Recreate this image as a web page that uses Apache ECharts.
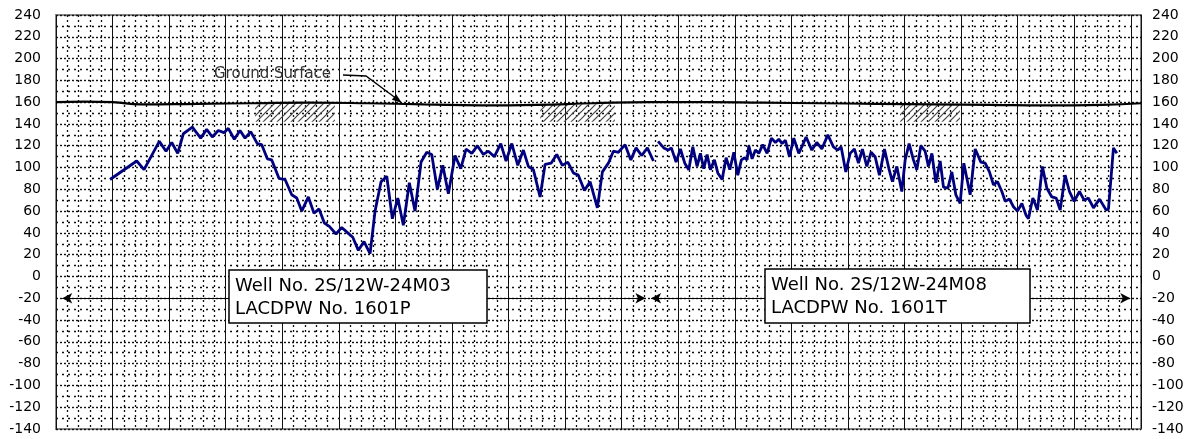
<!DOCTYPE html>
<html>
<head>
<meta charset="utf-8">
<script src="https://cdn.jsdelivr.net/npm/echarts@6/dist/echarts.min.js"></script>
<style>
html,body{margin:0;padding:0;background:#fff;}
#chart{width:1201px;height:439px;}
</style>
</head>
<body>
<div id="chart"></div>
<script>
// ---- Data (x in years from left edge of chart, y = water level elevation, ft) ----
const m03Years = [0.955,1.427,1.556,1.826,1.945,2.046,2.152,2.251,2.410,2.558,2.664,2.763,2.869,2.970,3.046,3.152,3.253,3.342,3.442,3.559,3.637,3.736,3.814,3.943,4.049,4.167,4.256,4.344,4.461,4.561,4.650,4.744,4.832,4.950,5.051,5.157,5.246,5.345,5.445,5.552,5.640,5.746,5.847,5.946,6.041,6.140,6.246,6.347,6.453,6.554,6.642,6.741,6.837,6.936,7.054,7.155,7.249,7.350,7.449,7.555,7.643,7.749,7.862,7.956,8.057,8.163,8.262,8.350,8.439,8.557,8.646,8.752,8.852,8.951,9.047,9.146,9.234,9.341,9.441,9.570,9.659,9.765,9.853,9.942,10.060,10.161,10.254,10.355,10.454,10.561];
const m03Levels = [89,106,98,124,115,123,113,131,137,127,135,128,134,132,136,126,134,127,133,122,121,108,107,90,89,75,72,60,73,58,62,49,46,39,45,40,36,24,32,21,60,87,92,53,72,47,86,60,105,114,112,80,102,76,111,99,117,113,120,112,115,110,122,106,122,102,116,101,98,73,103,104,112,102,105,95,93,79,87,63,96,104,115,114,121,107,118,111,118,106];

const m08Years = [10.643,10.744,10.820,10.878,10.962,11.038,11.115,11.186,11.257,11.333,11.391,11.451,11.510,11.568,11.639,11.699,11.775,11.846,11.911,11.982,12.052,12.116,12.176,12.217,12.247,12.305,12.364,12.424,12.494,12.570,12.647,12.717,12.777,12.836,12.894,12.965,13.042,13.130,13.202,13.260,13.361,13.449,13.538,13.644,13.743,13.821,13.879,13.962,14.038,14.114,14.185,14.255,14.333,14.409,14.480,14.556,14.645,14.728,14.786,14.864,14.952,15.011,15.081,15.157,15.217,15.288,15.364,15.423,15.483,15.553,15.630,15.688,15.766,15.836,15.907,15.983,16.048,16.160,16.249,16.349,16.425,16.501,16.572,16.643,16.720,16.779,16.855,16.925,16.996,17.074,17.150,17.190,17.268,17.349,17.438,17.516,17.604,17.680,17.751,17.839,17.915,17.998,18.092,18.175,18.251,18.340,18.446,18.564,18.605,18.693,18.753];
const m08Levels = [124,118,116,118,105,117,104,98,119,101,113,99,112,98,107,95,89,109,98,114,93,107,109,107,120,108,116,113,121,113,127,123,126,122,125,110,127,113,121,128,116,123,117,130,119,116,119,96,113,117,104,117,101,114,110,93,117,98,87,101,78,107,122,107,98,120,115,101,113,86,106,82,81,96,75,67,104,75,117,105,104,96,84,87,78,69,71,64,60,67,56,53,72,61,101,81,73,72,61,93,78,69,78,70,72,63,71,61,62,118,113];

const groundYears  = [0,0.5,1,1.5,2.5,3.5,4.5,5.5,6.5,7.5,8.5,9.5,10.5,11.5,12.5,13.5,14.5,15.5,16.5,17.5,18.5,19.18];
const groundLevels = [160,160.5,160,158,158.5,159,159.5,159,158,157,157.5,159,160,160,159.5,159,158.5,158,157.5,157,157.5,159];

// hatched ground-symbol zones: [startYear, endYear, top, bottom]
const hatchZones = [[3.52,4.93,159,142],[8.56,9.88,158,142],[14.92,15.98,158,142]];
// monitoring periods for each well (arrows at level -20)
const wellPeriods = [[0.11,10.42],[10.52,18.99]];
const periodLevel = -20;
const wellLabels = ['Well No. 2S/12W-24M03\nLACDPW No. 1601P','Well No. 2S/12W-24M08\nLACDPW No. 1601T'];
const groundLabel = 'Ground Surface';

const xMin = 0, xMax = 19.18;
const yMin = -140, yMax = 240, yStep = 20;

function zip(xs, ys){ return xs.map((x,i)=>[x, ys[i]]); }

function hatchPattern(){
  const c = document.createElement('canvas');
  c.width = 7; c.height = 7;
  const g = c.getContext('2d');
  g.strokeStyle = '#444'; g.lineWidth = 1.2;
  g.beginPath();
  g.moveTo(0,7); g.lineTo(7,0);
  g.moveTo(-1,1); g.lineTo(1,-1);
  g.moveTo(6,8); g.lineTo(8,6);
  g.stroke();
  return c;
}

const chart = echarts.init(document.getElementById('chart'), null, {renderer:'canvas'});
const labelFont = 'DejaVu Sans';
const navy = '#00007f';

const option = {
  animation:false,
  backgroundColor:'#fff',
  grid:{left:56,right:60,top:15,bottom:10,show:true,borderColor:'#8a8a8a',borderWidth:2,backgroundColor:'transparent'},
  xAxis:{
    type:'value',min:xMin,max:xMax,interval:1,
    axisLine:{show:false},
    axisLabel:{show:false},
    axisTick:{show:true,length:7,lineStyle:{color:'#000',width:1}},
    splitLine:{show:true,lineStyle:{color:'#111',width:1,type:'solid'}},
    minorTick:{show:false,splitNumber:5},
    minorSplitLine:{show:true,lineStyle:{color:'#111',width:1.3,type:[2,3]}}
  },
  yAxis:[
    {
      type:'value',min:yMin,max:yMax,interval:yStep,position:'left',
      axisLine:{show:false},axisTick:{show:false},
      axisLabel:{color:'#000',fontFamily:labelFont,fontSize:14,margin:15},
      splitLine:{show:true,lineStyle:{color:'#111',width:1.4,type:[2,2]}},
      minorTick:{show:false,splitNumber:2},
      minorSplitLine:{show:true,lineStyle:{color:'#111',width:1.4,type:[2,4]}}
    },
    {
      type:'value',min:yMin,max:yMax,interval:yStep,position:'right',
      axisLine:{show:false},axisTick:{show:false},
      axisLabel:{color:'#000',fontFamily:labelFont,fontSize:14,margin:11},
      splitLine:{show:false}
    }
  ],
  series:[
    {
      name:'Ground Surface',type:'line',data:zip(groundYears,groundLevels),
      showSymbol:false,smooth:true,
      lineStyle:{color:'#000',width:2.2},
      markArea:{
        silent:true,
        itemStyle:{color:{image:hatchPattern(),repeat:'repeat'}},
        label:{show:false},
        data:hatchZones.map(z=>[{coord:[z[0],z[2]]},{coord:[z[1],z[3]]}])
      },
      markLine:{
        silent:true,symbol:['arrow','arrow'],symbolSize:[8,10],
        label:{show:false},
        lineStyle:{color:'#000',width:1,type:'solid'},
        data:wellPeriods.map(p=>[{coord:[p[0],periodLevel]},{coord:[p[1],periodLevel]}])
      }
    },
    {
      name:'24M03',type:'line',data:zip(m03Years,m03Levels),
      showSymbol:false,lineStyle:{color:navy,width:2.8},z:5
    },
    {
      name:'24M08',type:'line',data:zip(m08Years,m08Levels),
      showSymbol:false,lineStyle:{color:navy,width:2.8},z:5
    }
  ],
  graphic:[
    {type:'rect',shape:{x:229,y:270,width:258,height:53},style:{fill:'#fff',stroke:'#000',lineWidth:1.5},z:100},
    {type:'text',x:235,y:275,style:{text:wellLabels[0],font:'18px "DejaVu Sans"',lineHeight:23,fill:'#000'},z:101},
    {type:'rect',shape:{x:765,y:269,width:265,height:54},style:{fill:'#fff',stroke:'#000',lineWidth:1.5},z:100},
    {type:'text',x:771,y:274,style:{text:wellLabels[1],font:'18px "DejaVu Sans"',lineHeight:23,fill:'#000'},z:101},
    {type:'text',x:214,y:67,style:{text:groundLabel,font:'15px "DejaVu Sans"',fill:'#333'},z:101},
    {type:'polyline',shape:{points:[[343,75],[366,76],[397,99]]},style:{stroke:'#000',lineWidth:1.3,fill:null},z:101},
    {type:'polygon',shape:{points:[[402,103],[391.9,99.8],[396.1,94.2]]},style:{fill:'#000'},z:101}
  ]
};
chart.setOption(option);
</script>
</body>
</html>
